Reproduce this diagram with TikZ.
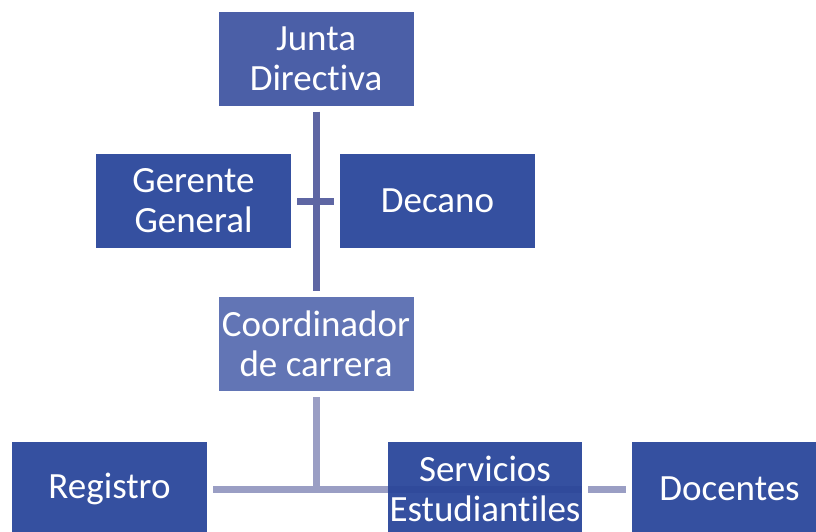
\documentclass[tikz,border=0pt]{standalone}
\usepackage{fontspec}
\setmainfont{Carlito}[Ligatures=NoCommon]
\definecolor{topbox}{HTML}{4B5FA7}
\definecolor{darkbox}{HTML}{3550A0}
\definecolor{midbox}{HTML}{6275B5}
\definecolor{topline}{HTML}{5E66A3}
\definecolor{lowline}{HTML}{9A9EC4}
\definecolor{band}{HTML}{2E4698}
\begin{document}
\begin{tikzpicture}[x=1pt,y=-1pt,
  box/.style={draw=none, minimum width=195pt, minimum height=94pt, text=white,
    align=center, inner sep=0pt, font=\fontsize{37}{40}\selectfont},
  link/.style={line width=7pt, shorten <=6pt, shorten >=6pt},
]
\useasboundingbox (0,0) rectangle (816,531);
\clip (0,0) rectangle (816,531);
\node[box, fill=topbox] (junta) at (316,58.5) {Junta\\Directiva};
\node[box, fill=darkbox] (gerente) at (193.5,201) {Gerente\\General};
\node[box, fill=darkbox] (decano) at (437.5,201) {Decano};
\node[box, fill=midbox] (coord) at (316,344) {Coordinador\\de carrera};
\node[box, fill=darkbox] (registro) at (109.5,489) {Registro};
\node[box, fill=darkbox, minimum width=194pt] (servicios) at (485,489) {Servicios\\Estudiantiles};
\node[box, fill=darkbox] (docentes) at (729.5,489) {Docentes};
\coordinate (j) at (316,489);
% connectors
\draw[link, topline] (junta) -- (coord);
\draw[link, topline] (gerente) -- (decano);
\draw[link, lowline, shorten >=0pt] (coord) -- (j);
\draw[link, lowline, shorten >=0pt] (registro) -- (j);
\draw[link, lowline, shorten >=0pt, shorten <=-3.5pt] (j) -- (servicios.west);
\draw[line width=7pt, band, opacity=0.6] (servicios.west) -- (servicios.east);
\draw[link, lowline] (servicios) -- (docentes);
\end{tikzpicture}
\end{document}
